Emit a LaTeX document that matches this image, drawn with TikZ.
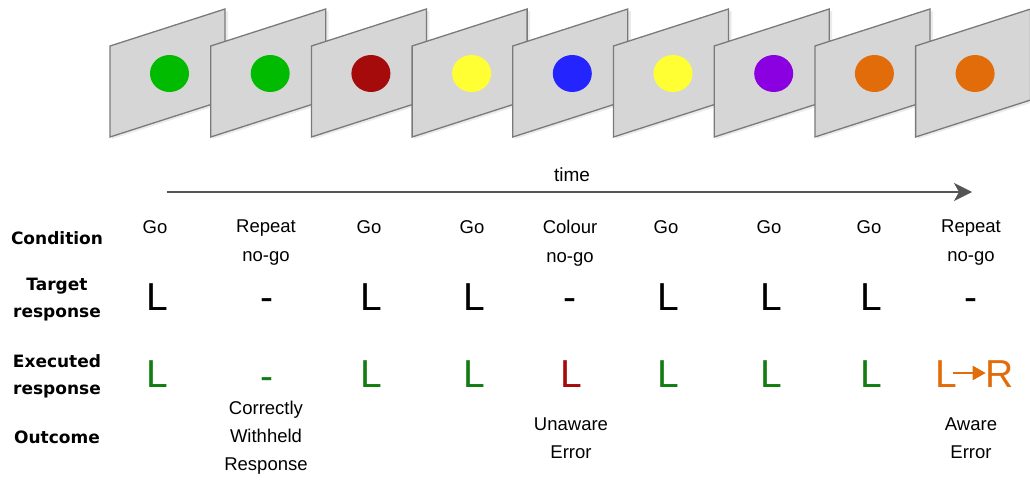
\documentclass[tikz,border=0pt]{standalone}
\usepackage{fontspec}
\setmainfont{Liberation Sans}
\newfontfamily\labelfont{DejaVu Sans}
\usetikzlibrary{arrows.meta}
\definecolor{panelfill}{HTML}{D6D6D6}
\definecolor{paneldraw}{HTML}{7A7A7A}
\definecolor{cgreen}{HTML}{00BB00}
\definecolor{cred}{HTML}{A50B0B}
\definecolor{cyellow}{HTML}{FFFF33}
\definecolor{cblue}{HTML}{2424FF}
\definecolor{cpurple}{HTML}{8B00E0}
\definecolor{corange}{HTML}{E36C0A}
\definecolor{tgreen}{HTML}{137C13}
\definecolor{tred}{HTML}{A50B0B}
\definecolor{arrowgray}{HTML}{555555}
\tikzset{
  panel/.style={fill=panelfill, draw=paneldraw, line width=1.3pt, line join=miter},
  rowlabel/.style={font=\labelfont\fontsize{17}{27}\selectfont\bfseries, align=center, inner sep=0pt},
  cond/.style={font=\fontsize{18.5}{29}\selectfont, align=center, inner sep=0pt, anchor=north},
  big/.style={font=\fontsize{39}{39}\selectfont, inner sep=0pt, anchor=base, text height=28pt, text depth=0pt},
  outcome/.style={font=\fontsize{18.5}{28}\selectfont, align=center, inner sep=0pt},
  timearrow/.style={draw=arrowgray, line width=2pt, -{Stealth[length=18pt,width=18pt,inset=5pt]}},
}
\begin{document}
\begin{tikzpicture}[x=1pt,y=-1pt]
\useasboundingbox (0,0) rectangle (1030,479);
% stimulus panels
\foreach \c [count=\i from 0] in {cgreen,cgreen,cred,cyellow,cblue,cyellow,cpurple,corange,corange}{
  \pgfmathsetmacro\L{110+100.7*\i}
  \fill[black!8] (\L+2,48) -- (\L+118,11) -- (\L+118,102) -- (\L+2,139) -- cycle;
  \draw[panel] (\L,46) -- (\L+115,9) -- (\L+115,100) -- (\L,137) -- cycle;
  \fill[\c] (\L+59.5,73.5) ellipse (19.5 and 18.5);
}
% time arrow
\coordinate (t0) at (167,192);
\coordinate (t1) at (972,192);
\draw[timearrow] (t0) -- (t1);
\node[font=\fontsize{19}{19}\selectfont, inner sep=0pt, anchor=base] (time) at (572,181.5) {time};
% row labels
\node[rowlabel] (lcond) at (57,238) {Condition};
\node[rowlabel] (ltarget) at (57,300) {Target\\response};
\node[rowlabel] (lexec) at (57,376) {Executed\\response};
\node[rowlabel] (lout) at (57,437) {Outcome};
% condition row
\node[cond] (c1) at (155,220) {Go};
\node[cond] (c2) at (266,220) {Repeat\\no-go};
\node[cond] (c3) at (369,220) {Go};
\node[cond] (c4) at (472,220) {Go};
\node[cond] (c5) at (570,220) {Colour\\no-go};
\node[cond] (c6) at (666,220) {Go};
\node[cond] (c7) at (769,220) {Go};
\node[cond] (c8) at (869,220) {Go};
\node[cond] (c9) at (971,220) {Repeat\\no-go};
% target response row
\node[big] (r1) at (157,310) {L};
\node[big] (r2) at (267,310) {-};
\node[big] (r3) at (371,310) {L};
\node[big] (r4) at (474,310) {L};
\node[big] (r5) at (570,310) {-};
\node[big] (r6) at (668,310) {L};
\node[big] (r7) at (771,310) {L};
\node[big] (r8) at (871,310) {L};
\node[big] (r9) at (971,310) {-};
% executed response row
\node[big, text=tgreen] (e1) at (157,387) {L};
\node[big, text=tgreen] (e2) at (267,389) {-};
\node[big, text=tgreen] (e3) at (371,387) {L};
\node[big, text=tgreen] (e4) at (474,387) {L};
\node[big, text=tred] (e5) at (571,387) {L};
\node[big, text=tgreen] (e6) at (668,387) {L};
\node[big, text=tgreen] (e7) at (771,387) {L};
\node[big, text=tgreen] (e8) at (871,387) {L};
\node[big, text=corange] (e9a) at (946,387) {L};
\node[big, text=corange] (e9b) at (1000,387) {R};
\draw[corange, line width=2.5pt, -{Triangle[length=13pt,width=14pt]}, shorten <=-4pt] (e9a.east) -- (e9b.west);
% outcome row
\node[outcome] (o2) at (266,438) {Correctly\\Withheld\\Response};
\node[outcome] (o5) at (571,438) {Unaware\\Error};
\node[outcome] (o9) at (971,438) {Aware\\Error};
\end{tikzpicture}
\end{document}
